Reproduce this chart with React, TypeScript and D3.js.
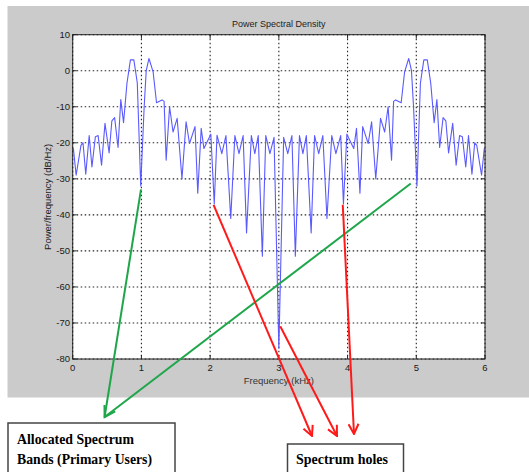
import React from 'react';
import * as d3 from 'd3';

// PSD trace (kHz, dB/Hz)
const freq = [
  0.01, 0.05, 0.12, 0.15, 0.19, 0.24, 0.28, 0.33, 0.37, 0.42, 0.47, 0.53, 0.57, 0.61, 0.66, 0.70,
  0.74, 0.79, 0.84, 0.89, 0.94, 0.99, 1.04, 1.07, 1.11, 1.17, 1.22, 1.30, 1.33, 1.36, 1.41, 1.46,
  1.52, 1.59, 1.65, 1.70, 1.78, 1.82, 1.87, 1.91, 2.01, 2.06, 2.10, 2.17, 2.23, 2.30, 2.36, 2.42,
  2.48, 2.53, 2.60, 2.65, 2.70, 2.76, 2.81, 2.87, 2.93, 3.00,
  3.07, 3.13, 3.19, 3.24, 3.30, 3.35, 3.40, 3.47, 3.52, 3.58, 3.64, 3.70, 3.77, 3.83, 3.90, 3.94,
  3.99, 4.09, 4.13, 4.18, 4.22, 4.30, 4.35, 4.41, 4.48, 4.54, 4.59, 4.64, 4.67, 4.70, 4.78, 4.83,
  4.89, 4.93, 4.96, 5.01, 5.06, 5.11, 5.16, 5.21, 5.26, 5.30, 5.34, 5.39, 5.43, 5.47, 5.53, 5.58,
  5.63, 5.67, 5.72, 5.76, 5.81, 5.85, 5.88, 5.95, 5.99,
];
const psd = [
  -21.5, -29, -20.7, -20, -28.7, -18, -26.7, -18.3, -18, -26.2, -14.6, -22.8, -13.9, -13, -21.3, -8,
  -14.4, -3.4, 3, 3, -3.4, -32, -10, 0, 3.4, -0.3, -8.9, -8.1, -8.5, -24.8, -10, -17,
  -13.2, -30, -14.2, -20.2, -15.5, -34, -16, -21.6, -17.6, -37, -17.9, -23, -18, -41, -18, -23,
  -18, -45, -18, -23, -18, -51.5, -18, -23, -18.5, -77,
  -18.5, -23, -18, -51.5, -18, -23, -18, -45, -18, -23, -18, -41, -18, -23, -18, -37,
  -17.6, -21.6, -16, -34, -15.5, -20.2, -14.2, -30, -13.2, -17, -10, -24.8, -8.5, -8.1, -8.9, -0.3,
  3.4, 0, -10, -32, -3.4, 3, 3, -3.4, -14.4, -8, -21.3, -13, -13.9, -22.8, -14.6, -26.2,
  -18, -18.3, -26.7, -18, -28.7, -20, -20.7, -29, -21.5,
];

const xTicks = [0, 1, 2, 3, 4, 5, 6];
const yTicks = [10, 0, -10, -20, -30, -40, -50, -60, -70, -80];

// annotation anchors on the curve (kHz, dB)
const greenFrom = [[0.994, -32.9], [4.92, -31.3]];
const redFrom = [[2.05, -37.2], [3.02, -70.9], [3.93, -37.2]];

const W = 529, H = 472;
const left = 72.7, right = 485, top = 34.7, bottom = 359;

export default function App() {
  const x = d3.scaleLinear().domain([0, 6]).range([left, right]);
  const y = d3.scaleLinear().domain([-80, 10]).range([bottom, top]);
  const line = d3.line<number>().x((_, i) => x(freq[i])).y((d) => y(d));

  const greenTip = [104.6, 417];
  const redTips = [[312, 436], [337, 436], [354, 434]];

  // open V arrowhead for the shared green tip, along the bisector
  const dirs = greenFrom.map(([f, v]) => Math.atan2(y(v) - greenTip[1], x(f) - greenTip[0]));
  const mid = (dirs[0] + dirs[1]) / 2;
  const arm = (a: number) => `${greenTip[0] + 12 * Math.cos(a)},${greenTip[1] + 12 * Math.sin(a)}`;

  const sans = 'Liberation Sans, Arial, sans-serif';
  const serif = 'Liberation Serif, Times New Roman, serif';

  return (
    <svg width={W} height={H} style={{ position: 'absolute', left: 0, top: 0 }}>
      <defs>
        <marker id="redHead" viewBox="0 0 12 12" refX="11" refY="6" markerWidth="12" markerHeight="12"
          markerUnits="userSpaceOnUse" orient="auto">
          <path d="M1,1 L11,6 L1,11" fill="none" stroke="#ff1a1a" strokeWidth="2" />
        </marker>
      </defs>
      <rect x={0} y={0} width={W} height={H} fill="#fff" />
      <rect x={7.5} y={6} width={W - 7.5} height={391.5} fill="#cbcbcb" />
      <rect x={left} y={top} width={right - left} height={bottom - top} fill="#fff" />

      {xTicks.map((t) => (
        <g key={'x' + t}>
          <line x1={x(t)} x2={x(t)} y1={top} y2={bottom} stroke="#222" strokeWidth={1.1} strokeDasharray="1.5,2.5" />
          <line x1={x(t)} x2={x(t)} y1={bottom} y2={bottom - 4} stroke="#222" />
          <line x1={x(t)} x2={x(t)} y1={top} y2={top + 4} stroke="#222" />
          <text x={x(t)} y={371} fontFamily={sans} fontSize={9.5} textAnchor="middle" fill="#1a1a1a">{t}</text>
        </g>
      ))}
      {yTicks.map((t) => (
        <g key={'y' + t}>
          <line x1={left} x2={right} y1={y(t)} y2={y(t)} stroke="#222" strokeWidth={1.1} strokeDasharray="1.5,2.5" />
          <line x1={left} x2={left + 4} y1={y(t)} y2={y(t)} stroke="#222" />
          <line x1={right} x2={right - 4} y1={y(t)} y2={y(t)} stroke="#222" />
          <text x={70} y={y(t) + 3.3} fontFamily={sans} fontSize={9.5} textAnchor="end" fill="#1a1a1a">{t}</text>
        </g>
      ))}

      <path d={line(psd) || ''} fill="none" stroke="#5a5aff" strokeWidth={1.1} strokeLinejoin="round" />
      <rect x={left} y={top} width={right - left} height={bottom - top} fill="none" stroke="#222" strokeWidth={1} />

      <text x={(left + right) / 2} y={27} fontFamily={sans} fontSize={9} textAnchor="middle" fill="#222">Power Spectral Density</text>
      <text x={(left + right) / 2} y={384} fontFamily={sans} fontSize={9.5} textAnchor="middle" fill="#333">Frequency (kHz)</text>
      <text transform={`translate(51,${(top + bottom) / 2}) rotate(-90)`} fontFamily={sans} fontSize={9.5}
        textAnchor="middle" fill="#222">Power/frequency (dB/Hz)</text>

      {greenFrom.map(([f, v], i) => (
        <line key={'g' + i} x1={x(f)} y1={y(v)} x2={greenTip[0]} y2={greenTip[1]} stroke="#1fa64a" strokeWidth={2} />
      ))}
      <polyline points={`${arm(mid - 0.55)} ${greenTip[0]},${greenTip[1]} ${arm(mid + 0.55)}`} fill="none"
        stroke="#1fa64a" strokeWidth={2} />

      {redFrom.map(([f, v], i) => (
        <line key={'r' + i} x1={x(f)} y1={y(v)} x2={redTips[i][0]} y2={redTips[i][1]} stroke="#ff1a1a" strokeWidth={2}
          markerEnd="url(#redHead)" />
      ))}

      <rect x={8} y={423} width={167} height={60} fill="#fff" stroke="#444" strokeWidth={1.5} />
      <text x={17} y={444} fontFamily={serif} fontWeight="bold" fontSize={15.5} textLength={117} lengthAdjust="spacingAndGlyphs">Allocated Spectrum</text>
      <text x={17} y={464} fontFamily={serif} fontWeight="bold" fontSize={15.5} textLength={135} lengthAdjust="spacingAndGlyphs">Bands (Primary Users)</text>

      <rect x={287.5} y={444} width={116} height={40} fill="#fff" stroke="#444" strokeWidth={1.5} />
      <text x={296} y={464} fontFamily={serif} fontWeight="bold" fontSize={15.5} textLength={92} lengthAdjust="spacingAndGlyphs">Spectrum holes</text>
    </svg>
  );
}
